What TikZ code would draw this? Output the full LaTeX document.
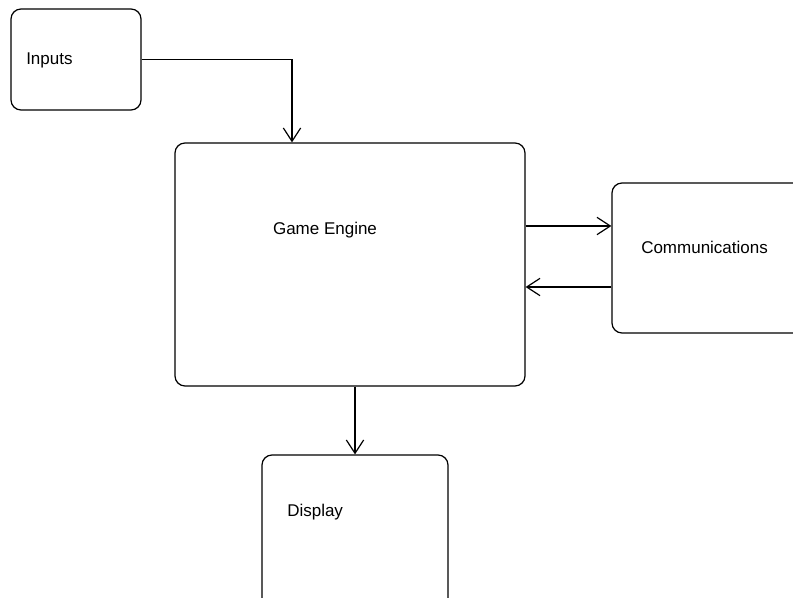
\documentclass[tikz,border=0pt]{standalone}
\usepackage{fontspec}
\setmainfont{Liberation Sans}
\usetikzlibrary{arrows.meta, positioning}

\begin{document}
\begin{tikzpicture}[x=0.75pt,y=-0.75pt,
    box/.style={draw, line width=0.9pt, rounded corners=7.5pt},
    lbl/.style={inner sep=0pt, font=\fontsize{12.75}{15}\selectfont},
    flow/.style={line width=0.9pt, -{Straight Barb[length=10pt,width=13pt]}}]
  \clip (0,0) rectangle (793,598);

  \node[box, minimum width=97.5pt, minimum height=75.75pt] (inputs) at (76,59.5) {};
  \node[box, minimum width=262.5pt, minimum height=182.25pt] (engine) at (350,264.5) {};
  \node[box, minimum width=163.5pt, minimum height=112.5pt] (comms) at (721,258) {};
  \node[box, minimum width=139.5pt, minimum height=138.75pt] (display) at (355,547.5) {};

  \node[lbl, anchor=west] (inputs-text) at (26,60) {Inputs};
  \node[lbl] (engine-text) at (325,230) {Game Engine};
  \node[lbl, anchor=west] (comms-text) at (641,247) {Communications};
  \node[lbl, anchor=west] (display-text) at (287,512) {Display};

  \coordinate (tx) at ([yshift=24pt]comms.west);
  \coordinate (rx) at ([yshift=-21.75pt]comms.west);

  \draw[flow] (inputs.east) -| ([xshift=-43.5pt]engine.north);
  \draw[flow] (engine.east |- tx) -- (tx);
  \draw[flow] (rx) -- (engine.east |- rx);
  \draw[flow] (engine.south -| display.north) -- (display.north);
\end{tikzpicture}
\end{document}
